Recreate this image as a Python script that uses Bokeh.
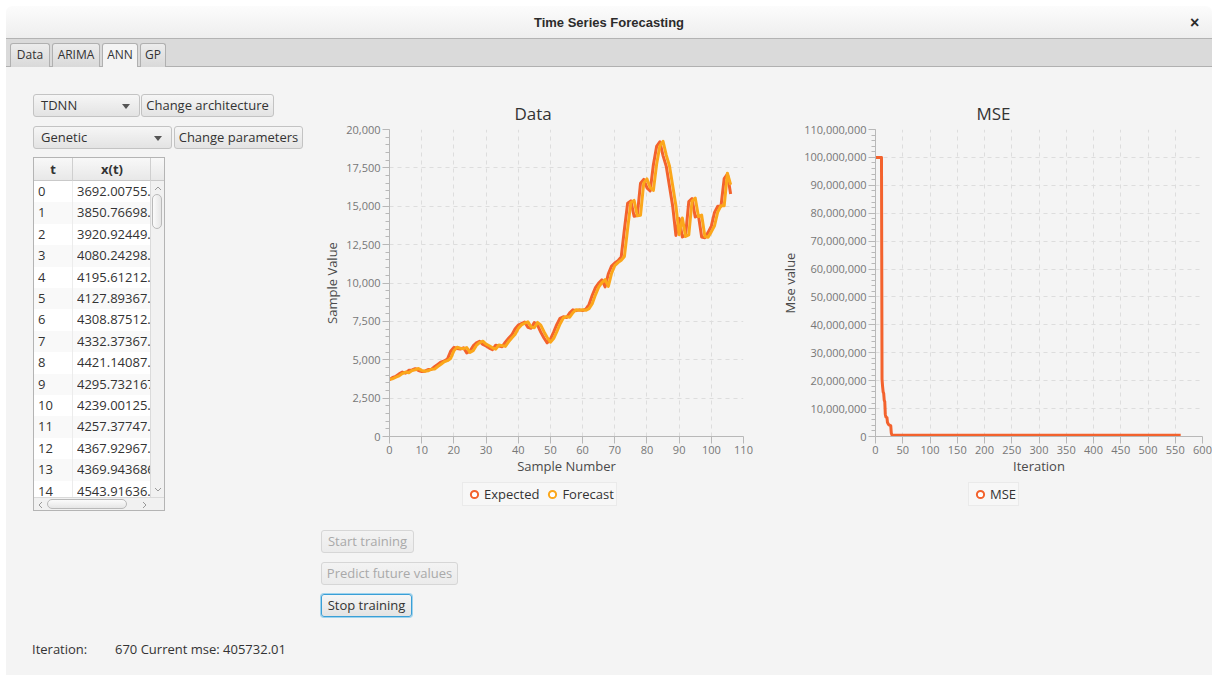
from bokeh.plotting import figure
from bokeh.models import (ColumnDataSource, Range1d, SingleIntervalTicker, NumeralTickFormatter,
                          Legend, LegendItem, Div, Title, Spacer)
from bokeh.core.properties import value
from bokeh.layouts import column, row
from bokeh.embed import file_html
from bokeh.resources import INLINE

# ---------------- data ----------------
sample_number = list(range(107))
expected = [3692.00755, 3850.76698, 3920.92449, 4080.24298, 4195.61212, 4127.89367, 4308.87512, 4332.37367, 4421.14087, 4295.732167,
            4239.00125, 4257.37747, 4367.92967, 4369.943686, 4543.91636, 4700, 4850, 4920, 5050, 5550,
            5800, 5730, 5700, 5780, 5450, 5560, 5900, 6100, 6200, 6000,
            5900, 5760, 5660, 5950, 5900, 5850, 6150, 6400, 6620, 7000,
            7250, 7350, 7450, 7120, 7050, 7420, 7250, 6800, 6420, 6100,
            6350, 6800, 7300, 7700, 7800, 7750, 8050, 8250, 8200, 8250,
            8200, 8300, 8600, 9200, 9700, 10000, 10200, 9750, 10600, 11100,
            11300, 11450, 11700, 13500, 15200, 15350, 14350, 14400, 16500, 16750,
            16200, 16000, 17700, 18900, 19200, 18300, 17600, 16300, 15000, 13100,
            14200, 13000, 13100, 15300, 15500, 14300, 14400, 13000, 12950, 13300,
            13700, 14600, 15000, 15000, 16800, 17100, 15800]
forecast = [3720, 3760, 3870, 3950, 4100, 4200, 4150, 4300, 4350, 4430,
            4310, 4250, 4280, 4380, 4390, 4560, 4710, 4870, 4940, 5080,
            5580, 5820, 5750, 5720, 5790, 5480, 5590, 5930, 6120, 6210,
            6020, 5910, 5780, 5690, 5960, 5920, 5870, 6170, 6420, 6640,
            7030, 7270, 7380, 7470, 7140, 7080, 7430, 7260, 6830, 6450,
            6140, 6380, 6830, 7330, 7720, 7810, 7770, 8070, 8260, 8220,
            8260, 8220, 8330, 8650, 9230, 9730, 10030, 10220, 9780, 10620,
            11130, 11330, 11480, 11730, 13550, 15250, 15380, 14380, 14420, 16520,
            16780, 16220, 16030, 17730, 18930, 19230, 18330, 17620, 16330, 15030,
            13150, 14230, 13030, 13130, 15330, 15530, 14330, 14420, 13030, 12980,
            13330, 13730, 14630, 15030, 15030, 17150, 16400]

mse_iteration = [0, 11, 12, 13, 14, 15, 16, 17, 18, 19, 21, 22, 24, 25, 27, 28, 29, 30, 31, 560]
mse_value = [100000000, 100000000, 20500000, 18000000, 16000000, 15500000, 13000000, 12500000, 8000000, 7000000,
             6800000, 5000000, 4300000, 4100000, 4000000, 3800000, 1200000, 600000, 420000, 405732]

table_t = [str(i) for i in range(15)]
table_x = ["3692.00755.", "3850.76698.", "3920.92449.", "4080.24298.", "4195.61212.", "4127.89367.",
           "4308.87512.", "4332.37367.", "4421.14087.", "4295.732167", "4239.00125.", "4257.37747.",
           "4367.92967.", "4369.943686", "4543.91636."]

tabs = ["Data", "ARIMA", "ANN", "GP"]
status_iteration = "670"
status_mse = "405732.01"

# ---------------- style ----------------
FONT = "Open Sans"
BG = "#f4f4f4"
C1 = "#f3622d"
C2 = "#fba71b"


def style_chart(p, x_int, y_int):
    p.background_fill_color = BG
    p.border_fill_color = BG
    p.outline_line_color = None
    p.xaxis.ticker = SingleIntervalTicker(interval=x_int, num_minor_ticks=5)
    p.yaxis.ticker = SingleIntervalTicker(interval=y_int, num_minor_ticks=5)
    for ax in (p.xaxis[0], p.yaxis[0]):
        ax.axis_line_color = "#b8b8b8"
        ax.major_tick_line_color = "#b8b8b8"
        ax.minor_tick_line_color = "#b8b8b8"
        ax.major_tick_in = 0
        ax.major_tick_out = 7
        ax.minor_tick_in = 0
        ax.minor_tick_out = 4
        ax.major_label_text_font = FONT
        ax.major_label_text_font_size = "11px"
        ax.major_label_text_color = "#777777"
        ax.axis_label_text_font = FONT
        ax.axis_label_text_font_size = "13px"
        ax.axis_label_text_color = "#4a4a4a"
        ax.axis_label_text_font_style = "normal"
        ax.formatter = NumeralTickFormatter(format="0,0")
        ax.major_label_standoff = 2
        ax.axis_label_standoff = 2
    p.xaxis[0].minor_tick_out = 0
    p.xaxis[0].axis_label_standoff = 0
    p.grid.grid_line_color = "#dddddd"
    p.grid.grid_line_dash = "4 4"
    p.grid.grid_line_width = 1


def make_title(text, offset):
    return Title(text=text, align="left", offset=offset, text_font=FONT, text_font_size="17px",
                 text_font_style="normal", text_color="#333333", standoff=9)


def legend_figure(width, series, labels, colors, border_left, border_right, loc):
    """A small axis-less figure (frame aligned with the chart above) that holds the chart's legend;
    the series markers fall outside its view, only the legend shows."""
    lf = figure(width=width, height=33, x_range=Range1d(0, 1), y_range=Range1d(0, 1),
                output_backend="svg", toolbar_location=None, x_axis_location=None, y_axis_location=None,
                min_border_left=border_left, min_border_right=border_right, min_border_top=0, min_border_bottom=0)
    lf.grid.visible = False
    lf.outline_line_color = None
    lf.background_fill_color = BG
    lf.border_fill_color = BG
    items = []
    for (xs, ys), lab, col in zip(series, labels, colors):
        s = ColumnDataSource(data=dict(x=xs, y=ys))
        r = lf.scatter("x", "y", source=s, marker="circle", size=8, line_color=col,
                       line_width=2, fill_color="white")
        items.append(LegendItem(label=value(lab), renderers=[r]))
    lg = Legend(items=items, orientation="horizontal", location=loc, margin=0, padding=2,
                spacing=4, glyph_width=18, glyph_height=18, label_height=14, label_standoff=1,
                label_text_font=FONT, label_text_font_size="13px", label_text_color="#333333",
                border_line_color="#dedede", background_fill_color="#f7f7f7",
                background_fill_alpha=1.0)
    lf.add_layout(lg)
    return lf


# ---------------- Data chart ----------------
src = ColumnDataSource(data=dict(x=sample_number, e=expected, f=forecast))
p1 = figure(width=440, height=414, x_range=Range1d(0, 110), y_range=Range1d(0, 20000),
            output_backend="svg", toolbar_location=None,
            min_border_left=67, min_border_right=17, min_border_top=62, min_border_bottom=45,
            x_axis_label="Sample Number", y_axis_label="Sample Value")
style_chart(p1, 10, 2500)
p1.add_layout(make_title("Data", 125), "above")
p1.line("x", "e", source=src, line_color=C1, line_width=3, line_join="round")
p1.line("x", "f", source=src, line_color=C2, line_width=3, line_join="round")
leg1 = legend_figure(440, [(sample_number, expected), (sample_number, forecast)],
                     ["Expected", "Forecast"], [C1, C2], 67, 17, (73, 8))

# ---------------- MSE chart ----------------
src2 = ColumnDataSource(data=dict(x=mse_iteration, y=mse_value))
p2 = figure(width=452, height=414, x_range=Range1d(0, 600), y_range=Range1d(0, 110000000),
            output_backend="svg", toolbar_location=None,
            min_border_left=115, min_border_right=10, min_border_top=62, min_border_bottom=45,
            x_axis_label="Iteration", y_axis_label="Mse value")
style_chart(p2, 50, 10000000)
p2.add_layout(make_title("MSE", 101), "above")
p2.line("x", "y", source=src2, line_color=C1, line_width=3, line_join="round")
leg2 = legend_figure(452, [(mse_iteration, mse_value)], ["MSE"], [C1], 115, 10, (93, 8))

# ---------------- UI chrome (HTML) ----------------
UIF = "font-family:'Open Sans',sans-serif;"
BTN = ("position:absolute;box-sizing:border-box;height:23px;border:1px solid #c3c3c3;border-radius:3px;"
       "background:linear-gradient(#f6f6f6,#e3e3e3);color:#333;font-size:13px;line-height:21px;"
       "text-align:center;white-space:nowrap;" + UIF)


def button(label, left, top, width, extra=""):
    return f'<div style="{BTN}left:{left}px;top:{top}px;width:{width}px;{extra}">{label}</div>'


def combo(label, left, top, width):
    arrow = (f'<div style="position:absolute;right:9px;top:9px;width:0;height:0;'
             f'border-left:4px solid transparent;border-right:4px solid transparent;border-top:5px solid #555;"></div>')
    return (f'<div style="{BTN}left:{left}px;top:{top}px;width:{width}px;text-align:left;padding-left:7px;">'
            f'{label}{arrow}</div>')


def mkdiv(html, w, h, bg=BG):
    return Div(text=html, width=w, height=h, margin=0, styles={"background-color": bg})


W = 1206
title_html = (
    f'<div style="position:relative;width:{W}px;height:33px;box-sizing:border-box;'
    f'background:linear-gradient(#fcfcfc,#eeeeee);border-bottom:1px solid #b3b3b3;border-radius:6px 6px 0 0;">'
    f'<div style="position:absolute;left:0;width:{W}px;top:8px;text-align:center;font-size:13px;font-weight:bold;'
    f'color:#2b2b2b;font-family:\'Liberation Sans Narrow\',\'Liberation Sans\',sans-serif;">Time Series Forecasting</div>'
    f'<div style="position:absolute;left:1184px;top:6px;font-size:16px;font-weight:bold;color:#2b2b2b;'
    f'font-family:\'Liberation Sans\',sans-serif;">×</div></div>')
title_div = mkdiv(title_html, W, 33, "#ffffff")

tab_lefts = [4, 46, 96, 134]
tab_widths = [40, 48, 36, 26]
tab_parts = []
for name, l, w in zip(tabs, tab_lefts, tab_widths):
    sel = name == "ANN"
    bg = BG if sel else "linear-gradient(#ececec,#d9d9d9)"
    h = 25 if sel else 24
    tab_parts.append(
        f'<div style="position:absolute;left:{l}px;top:4px;width:{w}px;height:{h}px;box-sizing:border-box;'
        f'border:1px solid #b0b0b0;border-bottom:none;border-radius:3px 3px 0 0;background:{bg};'
        f'font-size:12px;color:#333;text-align:center;line-height:22px;{UIF}">{name}</div>')
tab_html = (f'<div style="position:relative;width:{W}px;height:28px;background:#dadada;">'
            f'<div style="position:absolute;left:0;top:27px;width:{W}px;height:1px;background:#b0b0b0;"></div>'
            + "".join(tab_parts) + '</div>')
tab_div = mkdiv(tab_html, W, 28, "#dadada")

# table
rows_html = []
for i, (t, xv) in enumerate(zip(table_t, table_x)):
    top = 23 + i * 21.4
    bg = "#ffffff" if i % 2 == 0 else "#f9f9f9"
    rows_html.append(
        f'<div style="position:absolute;left:0;top:{top:.1f}px;width:117px;height:21.4px;background:{bg};'
        f'font-size:13px;color:#333;line-height:21px;{UIF}">'
        f'<div style="position:absolute;left:4px;">{t}</div>'
        f'<div style="position:absolute;left:43px;width:74px;overflow:hidden;white-space:nowrap;">{xv}</div></div>')
chev_up = ('<svg style="position:absolute;left:3px;top:4px" width="8" height="6">'
           '<polyline points="1,5 4,2 7,5" fill="none" stroke="#999" stroke-width="1"/></svg>')
chev_dn = ('<svg style="position:absolute;left:3px;top:306px" width="8" height="6">'
           '<polyline points="1,1 4,4 7,1" fill="none" stroke="#999" stroke-width="1"/></svg>')
chev_l = ('<svg style="position:absolute;left:3px;top:3px" width="6" height="8">'
          '<polyline points="5,1 2,4 5,7" fill="none" stroke="#999" stroke-width="1"/></svg>')
chev_r = ('<svg style="position:absolute;left:108px;top:3px" width="6" height="8">'
          '<polyline points="1,1 4,4 1,7" fill="none" stroke="#999" stroke-width="1"/></svg>')
table_html = (
    f'<div style="position:absolute;left:27px;top:90px;width:132px;height:354px;box-sizing:border-box;'
    f'border:1px solid #b4b4b4;background:#fff;overflow:hidden;">'
    + "".join(rows_html) +
    f'<div style="position:absolute;left:38px;top:23px;width:1px;height:320px;background:#ececec;"></div>'
    f'<div style="position:absolute;left:0;top:0;width:130px;height:23px;box-sizing:border-box;'
    f'background:linear-gradient(#f8f8f8,#e8e8e8);border-bottom:1px solid #c9c9c9;font-size:13px;font-weight:bold;'
    f'color:#333;line-height:22px;{UIF}">'
    f'<div style="position:absolute;left:0;width:38px;text-align:center;">t</div>'
    f'<div style="position:absolute;left:38px;top:0;width:1px;height:23px;background:#cfcfcf;"></div>'
    f'<div style="position:absolute;left:39px;width:78px;text-align:center;">x(t)</div>'
    f'<div style="position:absolute;left:116px;top:0;width:1px;height:23px;background:#cfcfcf;"></div></div>'
    f'<div style="position:absolute;left:116px;top:23px;width:14px;height:317px;box-sizing:border-box;'
    f'background:#f1f1f1;border-left:1px solid #dadada;">{chev_up}'
    f'<div style="position:absolute;left:1px;top:13px;width:10px;height:35px;box-sizing:border-box;'
    f'border:1px solid #b9b9b9;border-radius:5px;background:linear-gradient(to right,#fbfbfb,#e6e6e6);"></div>'
    f'{chev_dn}</div>'
    f'<div style="position:absolute;left:0;top:339px;width:130px;height:13px;box-sizing:border-box;'
    f'background:#f1f1f1;border-top:1px solid #dadada;">{chev_l}'
    f'<div style="position:absolute;left:13px;top:1px;width:80px;height:10px;box-sizing:border-box;'
    f'border:1px solid #b9b9b9;border-radius:5px;background:linear-gradient(#fbfbfb,#e6e6e6);"></div>'
    f'{chev_r}</div></div>')

left_html = (f'<div style="position:relative;width:314px;height:562px;background:{BG};">'
             + combo("TDNN", 27, 27, 107)
             + button("Change architecture", 135, 27, 133)
             + combo("Genetic", 27, 59, 139)
             + button("Change parameters", 168, 59, 129)
             + table_html + '</div>')
left_div = mkdiv(left_html, 314, 562)

DIS = "color:#a9a9a9;border-color:#d6d6d6;background:linear-gradient(#f3f3f3,#ebebeb);"
btn_html = (f'<div style="position:relative;width:440px;height:115px;background:{BG};">'
            + button("Start training", 1, 16, 93, DIS)
            + button("Predict future values", 1, 48, 137, DIS)
            + button("Stop training", 1, 80, 91, "border-color:#3a9fd6;box-shadow:0 0 0 1px #9ed3ee;")
            + '</div>')
btn_div = mkdiv(btn_html, 440, 115)
filler_div = mkdiv("", 452, 115)

status_html = (f'<div style="position:relative;width:{W}px;height:46px;background:{BG};font-size:13px;color:#333;{UIF}">'
               f'<div style="position:absolute;left:26px;top:11px;">Iteration:</div>'
               f'<div style="position:absolute;left:109px;top:11px;">{status_iteration} Current mse: {status_mse}</div></div>')
status_div = mkdiv(status_html, W, 46)

content = column(title_div, tab_div,
                 row(left_div, column(p1, leg1, btn_div, spacing=0), column(p2, leg2, filler_div, spacing=0), spacing=0),
                 status_div, spacing=0, styles={"background-color": BG})
layout = column(Spacer(width=1212, height=6, margin=0),
                row(Spacer(width=6, height=670, margin=0), content, spacing=0),
                spacing=0, styles={"background-color": "#ffffff"})

open("out.html", "w").write(file_html(layout, INLINE))
